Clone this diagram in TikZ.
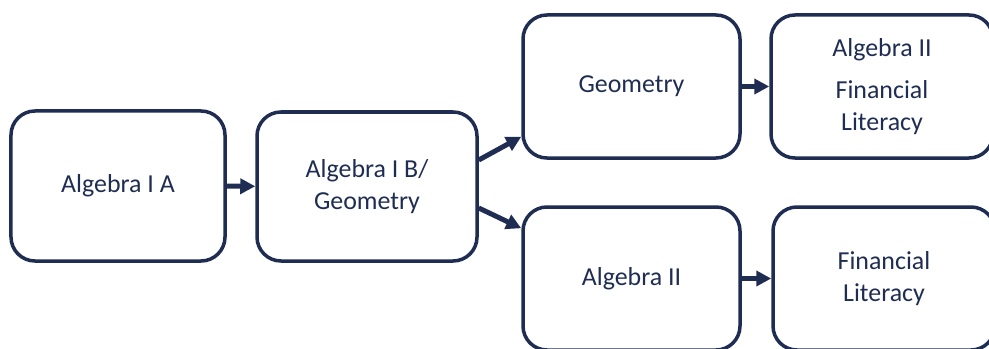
\documentclass[tikz,border=0pt]{standalone}
\usepackage{fontspec}
\setmainfont{Carlito}
\usepackage{xcolor}
\definecolor{navy}{HTML}{1F2D52}
\usetikzlibrary{arrows.meta}

\tikzset{course/.style={draw=navy,line width=3.5bp,rounded corners=24bp,fill=white,align=center,inner sep=2pt}}

\begin{document}
\begin{tikzpicture}[x=1bp,y=1bp,>={Triangle[length=15bp,width=15bp]},every node/.style={font=\fontsize{26}{32}\selectfont,text=navy}]
\useasboundingbox (0,0) rectangle (989,348);
\clip (0,0) rectangle (989,348);
\node[course,minimum width=214bp,minimum height=150bp] (A) at (118,162) {Algebra I A};
\node[course,minimum width=220bp,minimum height=149bp] (B) at (367,161.5) {Algebra I B/\\Geometry};
\node[course,minimum width=217bp,minimum height=143bp] (C) at (631.5,261.5) {Geometry};
\node[course,minimum width=222bp,minimum height=143bp] (D) at (882,261.5) {Algebra II\\[10bp]Financial\\Literacy};
\node[course,minimum width=217bp,minimum height=143bp] (E) at (631.5,69.5) {Algebra II};
\node[course,minimum width=222bp,minimum height=143bp] (F) at (884,69.5) {Financial\\Literacy};
\draw[->,navy,line width=5bp] (A) -- (B);
\draw[->,navy,line width=5bp] ([yshift=26.5bp]B.east) -- ([yshift=23bp]C.south west);
\draw[->,navy,line width=5bp] ([yshift=-21.5bp]B.east) -- ([yshift=-23bp]E.north west);
\draw[->,navy,line width=5bp] (C) -- (D);
\draw[->,navy,line width=5bp] (E) -- (F);
\end{tikzpicture}
\end{document}
